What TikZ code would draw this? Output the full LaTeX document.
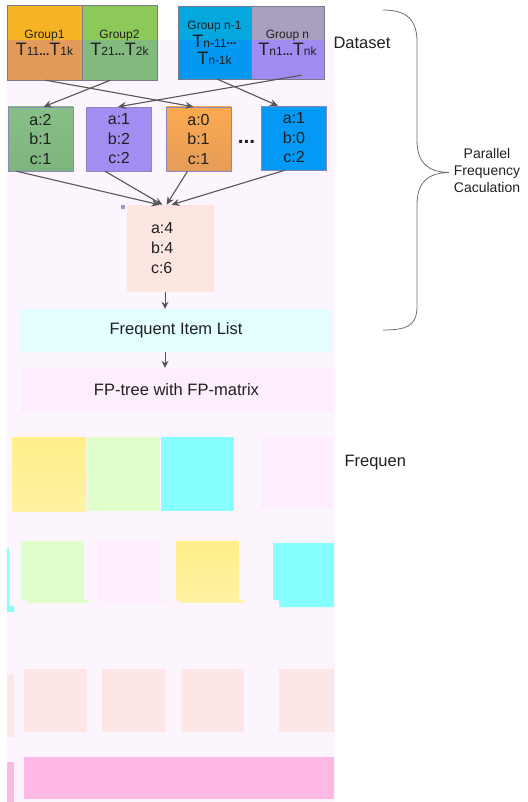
\documentclass[tikz,border=0pt]{standalone}
\usepackage{fontspec}
\setmainfont{Liberation Sans}
\usetikzlibrary{arrows.meta,positioning}

\definecolor{panel}{HTML}{FDF5FD}
\definecolor{grpline}{HTML}{7A7A8A}
\definecolor{cntline}{HTML}{8A88B8}
\definecolor{arrowc}{HTML}{555558}
\definecolor{txt}{HTML}{202020}
\definecolor{bracec}{HTML}{707070}
% group colours: top part / part under the panel
\definecolor{ghA}{HTML}{F5B325}\definecolor{glA}{HTML}{E39B5B}
\definecolor{ghB}{HTML}{8DC85A}\definecolor{glB}{HTML}{82BA80}
\definecolor{ghC}{HTML}{05A8DE}\definecolor{glC}{HTML}{0398F2}
\definecolor{ghD}{HTML}{A9A0C0}\definecolor{glD}{HTML}{A18AF0}
% count boxes
\definecolor{cgreenT}{HTML}{88BE88}\definecolor{cgreenB}{HTML}{7EB47E}
\definecolor{cpurple}{HTML}{A28EF2}
\definecolor{corangeT}{HTML}{FCAA50}\definecolor{corangeB}{HTML}{E49C58}
\definecolor{cblue}{HTML}{0399F4}
\definecolor{sumc}{HTML}{FDE6E1}
\definecolor{speck}{HTML}{9C98C8}
\definecolor{listc}{HTML}{E2FEFE}
\definecolor{treec}{HTML}{FCEEFC}
% lower blocks
\definecolor{yel}{HTML}{FFF08A}
\definecolor{yelB}{HTML}{FFF2A2}
\definecolor{lgreen}{HTML}{E0FDCC}
\definecolor{cyanbox}{HTML}{88FFFF}
\definecolor{faint}{HTML}{FDEDFD}
\definecolor{peach}{HTML}{FDE7E6}
\definecolor{pinkbar}{HTML}{FDB8E6}

\newcommand{\Tsub}[1]{{\fontsize{18}{18}\selectfont T}{\fontsize{12}{12}\selectfont #1}}
\newcommand{\bdots}{{\fontsize{12}{12}\selectfont\bfseries...}}

\begin{document}
\begin{tikzpicture}[x=1pt,y=-1pt,
    grp/.style={draw=grpline, minimum width=75pt, minimum height=75pt, inner sep=0pt,
        align=center, text=txt, font=\fontsize{12}{17}\selectfont},
    upper/.style={path picture={\fill[#1] (path picture bounding box.north west)
        rectangle (path picture bounding box.east |- cut);}},
    cnt/.style={draw=cntline, minimum width=65pt, minimum height=64pt, inner sep=0pt,
        align=center, text=txt, font=\fontsize{16}{19.5}\selectfont},
    wide/.style={minimum width=312pt, minimum height=43pt, inner sep=0pt,
        text=txt, font=\fontsize{16.5}{18}\selectfont},
    flow/.style={draw=arrowc, line width=1.1pt, -{Stealth[length=8pt,width=7pt]}}]
\useasboundingbox (0,0) rectangle (527,802);
\coordinate (cut) at (0,40);

% background panel
\fill[panel] (7,40) rectangle (335,802);

% dataset groups
\node[grp, fill=glA, upper=ghA] (g1) at (44.5,42.5) {Group1\\\Tsub{11}\bdots\Tsub{1k}};
\node[grp, fill=glB, upper=ghB] (g2) at (119.5,42.5) {Group2\\\Tsub{21}\bdots\Tsub{2k}};
\node[grp, fill=glC, upper=ghC, minimum width=73pt, minimum height=73pt] (g3) at (214.5,42.5)
    {Group n-1\\[1pt]\Tsub{n-11}\raisebox{3pt}{\bdots}\\\Tsub{n-1k}};
\node[grp, fill=glD, upper=ghD, minimum width=73pt, minimum height=73pt] (g4) at (287.5,42.5)
    {Group n\\\Tsub{n1}\bdots\Tsub{nk}};
\node[text=txt, font=\fontsize{16.5}{18}\selectfont, anchor=west] (data) at (330,43) {Dataset};

% local counts
\node[cnt, top color=cgreenT, bottom color=cgreenB] (c1) at (40.5,139) {a:2\\b:1\\c:1};
\node[cnt, fill=cpurple] (c2) at (119,139) {a:1\\b:2\\c:2};
\node[cnt, top color=corangeT, bottom color=corangeB] (c3) at (198.5,139) {a:0\\b:1\\c:1};
\node[font=\fontsize{21}{21}\selectfont\bfseries, text=txt] (dots) at (246.5,142) {...};
\node[cnt, fill=cblue] (c4) at (294,138) {a:1\\b:0\\c:2};

\draw[flow] ([xshift=1pt]g1.south) -- ([xshift=-5pt]c3.north);
\draw[flow] ([xshift=-9pt]g2.south) -- ([xshift=3pt]c1.north);
\draw[flow] ([xshift=3pt]g3.south) -- ([xshift=-16pt]c4.north);
\draw[flow] ([xshift=14pt,yshift=4pt]g4.south) -- ([xshift=-1pt]c2.north);

% global count
\node[cnt, draw=none, fill=sumc, minimum width=87pt, minimum height=87pt,
    text width=77pt, align=left, font=\fontsize{16}{20}\selectfont] (sum) at (170.5,248.5)
    {\hspace*{19pt}a:4\\\hspace*{19pt}b:4\\\hspace*{19pt}c:6};
\fill[speck] (121,205) rectangle (125,209);
\draw[flow] ([xshift=-24pt]c1.south) -- ([xshift=-11pt]sum.north);
\draw[flow] ([xshift=-14pt]c2.south) -- ([xshift=-8pt]sum.north);
\draw[flow] ([xshift=-11pt]c3.south) -- ([xshift=-4pt]sum.north);
\draw[flow] ([xshift=-9pt]c4.south) -- ([xshift=1pt]sum.north);

% list and tree
\node[wide, fill=listc] (list) at (176,330.5) {Frequent Item List};
\node[wide, fill=treec, minimum height=44pt] (tree) at (176.5,390) {FP-tree with FP-matrix};
\draw[flow, line width=1pt, -{Stealth[length=7pt,width=7pt]}] ([xshift=-5.5pt]sum.south) -- ([xshift=-11pt]list.north);
\draw[flow, line width=1pt, -{Stealth[length=7pt,width=7pt]}] ([xshift=-11pt]list.south) -- ([xshift=-11.5pt]tree.north);

% brace
\draw[bracec, line width=0.8pt] (383,10) .. controls (407,10) and (417,20) .. (417,42)
    -- (417,140) .. controls (417,163) and (428,172) .. (449,172.5)
    .. controls (428,173) and (417,182) .. (417,205) -- (417,306)
    .. controls (417,326) and (407,330) .. (383,330);
\node[align=center, text=txt, font=\fontsize{14}{17}\selectfont] (par) at (487,170)
    {Parallel\\Frequency\\Caculation};

% lower blocks
\fill[top color=yel, bottom color=yelB] (12,437) rectangle (86,511);
\fill[lgreen] (87,437) rectangle (160,511);
\fill[cyanbox] (161,437) rectangle (234,511);
\fill[faint] (261,437) rectangle (332,508);
\node[text=txt, font=\fontsize{16.5}{18}\selectfont, anchor=west] (freq) at (341,463) {Frequen};

\fill[cyanbox] (7,548) rectangle (9,606) (7,606) rectangle (14,612);
\fill[lgreen] (21,541) rectangle (84,600) (27,600) rectangle (89,603);
\fill[faint] (97,541) rectangle (160,600) (103,600) rectangle (165,603);
\fill[top color=yel, bottom color=yelB] (176,541) rectangle (239,600);
\fill[yelB] (181,600) rectangle (244,603);
\fill[cyanbox] (273,543) rectangle (334,600) (279,600) rectangle (334,607);

\fill[peach] (7,674) rectangle (14,737);
\foreach \xa in {24,102,181} {
  \fill[peach] (\xa,669) rectangle (\xa+63,732);
}
\fill[peach] (279,669) rectangle (334,732);

\fill[pinkbar] (7,762) rectangle (14,802);
\fill[pinkbar] (24,757) rectangle (334,799);
\end{tikzpicture}
\end{document}
